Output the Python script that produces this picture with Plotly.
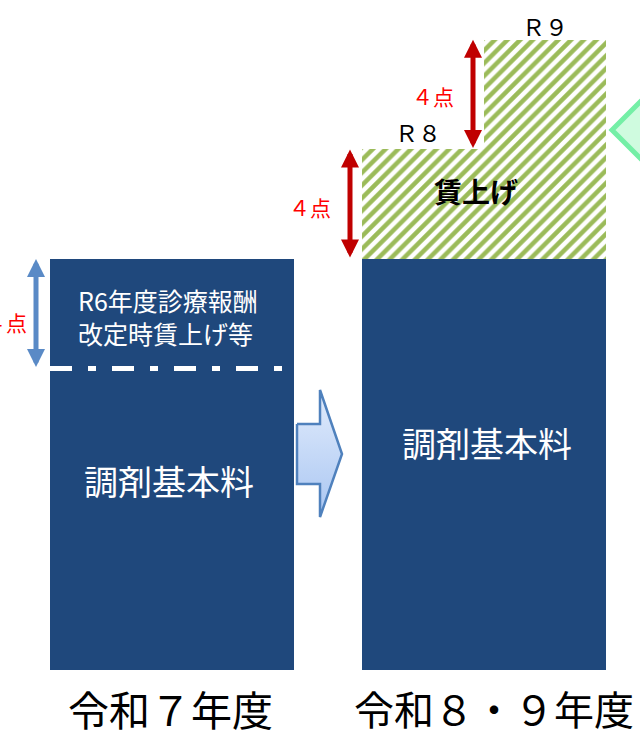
import plotly.graph_objects as go

# ---- data (points) ----
period_labels = ["令和７年度", "令和８・９年度"]
fee_base = 11.0        # 調剤基本料 before the R6 wage-related increase
wage_r6 = 4            # R6年度診療報酬改定時賃上げ等
wage_r8 = 4            # additional wage increase, R8
wage_r9 = 4            # additional wage increase, R9
step_labels = ["Ｒ８", "Ｒ９"]
wage_texts = ["４点", "４点", "４点"]   # R6, R8, R9

# ---- styling ----
FONT = "Noto Sans CJK JP"
NAVY = "#1F487C"
HATCH_GREEN = "#9BBB59"
RED_ARROW = "#C00000"
BLUE_ARROW = "#5A8AC6"

W, H = 640, 739
# page-pixel <-> axis helpers (axes fill the whole page)
X0_PX, PX_PER_X = 172.0, 312.0
Y0_PX, PX_PER_PT = 670.0, 27.4


def xd(px):
    return (px - X0_PX) / PX_PER_X


def yd(py):
    return (Y0_PX - py) / PX_PER_PT


BAR_W = 244.0 / PX_PER_X
navy_total = fee_base + wage_r6
r8_top = navy_total + wage_r8
r9_top = r8_top + wage_r9

fig = go.Figure()

bar_common = dict(width=BAR_W, marker_line_width=0, hoverinfo="skip", showlegend=False)

# 令和７年度: base fee + R6 portion
fig.add_bar(x=[0], y=[fee_base], base=[0], marker_color=NAVY, **bar_common)
fig.add_bar(x=[0], y=[wage_r6], base=[fee_base], marker_color=NAVY, **bar_common)

# 令和８・９年度: base fee (incl. R6) + hatched wage steps
fig.add_bar(x=[1], y=[navy_total], base=[0], marker_color=NAVY, **bar_common)
hatch = dict(shape="/", fgcolor=HATCH_GREEN, bgcolor="white", size=9,
             solidity=0.5, fillmode="replace")
fig.add_bar(x=[1], y=[wage_r8], base=[navy_total], marker_color="white",
            marker_pattern=hatch, **bar_common)
fig.add_bar(x=[1], y=[wage_r9], base=[r8_top], marker_color="white",
            marker_pattern=hatch, width=BAR_W / 2, offset=0,
            marker_line_width=0, hoverinfo="skip", showlegend=False)

# block arrow between the two bars
arrow_px = [(297, 424), (320, 424), (320, 390), (342, 454),
            (320, 517), (320, 484), (297, 484), (297, 424)]
fig.add_scatter(
    x=[xd(p[0]) for p in arrow_px], y=[yd(p[1]) for p in arrow_px],
    mode="lines", fill="toself",
    fillgradient=dict(type="vertical",
                      colorscale=[[0, "#A9C6F2"], [1, "#E2ECFC"]]),
    line=dict(color="#4F81BD", width=2.5),
    hoverinfo="skip", showlegend=False,
)

shapes = []
# dash-dot divider inside the left bar
shapes.append(dict(type="line", xref="x", yref="y",
                   x0=-BAR_W / 2, x1=xd(287), y0=fee_base, y1=fee_base,
                   line=dict(color="white", width=5, dash="22px,16px,8px,16px")))
# green pointer at the right edge
dia = [(612, 130), (652, 90), (692, 130), (652, 170)]
path = "M " + " L ".join(f"{xd(a)},{yd(b)}" for a, b in dia) + " Z"
shapes.append(dict(type="path", xref="x", yref="y", path=path,
                   fillcolor="#CFFBDF", line=dict(color="#74EFA6", width=5)))

annotations = []


def double_arrow(xpx, y_lo, y_hi, color, width):
    annotations.append(dict(
        x=xd(xpx), y=y_hi, ax=xd(xpx), ay=y_lo, xref="x", yref="y",
        axref="x", ayref="y", text="", showarrow=True,
        arrowside="end+start", arrowhead=2, startarrowhead=2,
        arrowsize=0.72, startarrowsize=0.72, arrowwidth=width,
        arrowcolor=color, standoff=0, startstandoff=0,
    ))


double_arrow(36, fee_base, navy_total, BLUE_ARROW, 5)
double_arrow(350, navy_total, r8_top, RED_ARROW, 5)
double_arrow(473, r8_top, r9_top, RED_ARROW, 5)


def label(text, xpx, ypx, size, color="black", xanchor="center", bold=False,
          align="center"):
    annotations.append(dict(
        x=xd(xpx), y=yd(ypx), xref="x", yref="y",
        text=f"<b>{text}</b>" if bold else text,
        showarrow=False, xanchor=xanchor, yanchor="middle", align=align,
        font=dict(family=FONT, size=size, color=color),
    ))


label("R6年度診療報酬<br>改定時賃上げ等", 76, 316, 25, "white",
      xanchor="left", align="left")
label("調剤基本料", 169, 480, 34, "white")
label("調剤基本料", 487, 442, 34, "white")
label("賃上げ", 476, 191, 28, "black", bold=True)
label(step_labels[0], 418, 132, 23)
label(step_labels[1], 545, 26, 23)
label(wage_texts[0], 29, 322, 21, "#FF0000", xanchor="right")
label(wage_texts[1], 310, 207, 21, "#FF0000")
label(wage_texts[2], 433, 96, 21, "#FF0000")
label(period_labels[0], 170, 708, 41)
label(period_labels[1], 494, 708, 40)

axis_off = dict(visible=False, showgrid=False, zeroline=False, fixedrange=True)
fig.update_layout(
    width=W, height=H, autosize=False,
    margin=dict(l=0, r=0, t=0, b=0),
    paper_bgcolor="white", plot_bgcolor="white",
    barmode="overlay", bargap=0,
    xaxis=dict(range=[xd(0), xd(W)], **axis_off),
    yaxis=dict(range=[yd(H), yd(0)], **axis_off),
    shapes=shapes, annotations=annotations,
    font=dict(family=FONT),
)

fig.write_html("out.html")
